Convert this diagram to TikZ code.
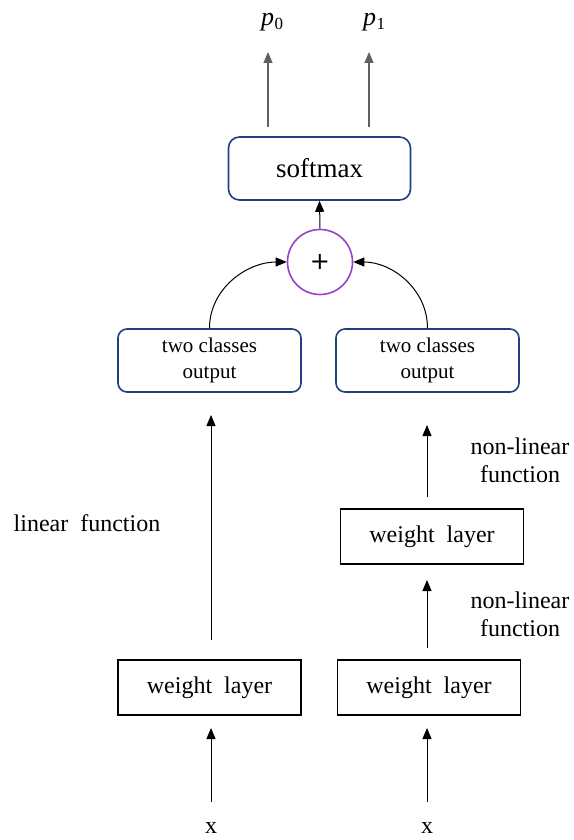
\documentclass[tikz,border=0pt]{standalone}
\usepackage{fontspec}
\setmainfont{Liberation Serif}
\newfontfamily\symfont{DejaVu Sans}
\usetikzlibrary{arrows.meta}
\definecolor{boxblue}{HTML}{1F3F7F}
\definecolor{circpurple}{HTML}{9B3FC6}
\definecolor{arrgray}{HTML}{606060}
\newcommand{\pout}[1]{\textit{p}\kern0.5pt\raisebox{-4pt}{\fontsize{17}{17}\selectfont #1}}
\tikzset{
  wlayer/.style={draw=black, line width=1.6pt, minimum width=183pt, minimum height=55pt, inner sep=0pt, font=\fontsize{24}{28}\selectfont},
  classbox/.style={draw=boxblue, line width=1.6pt, rounded corners=9pt, minimum width=183pt, minimum height=63pt, inner sep=0pt, align=center, font=\fontsize{21}{26}\selectfont},
  softbox/.style={draw=boxblue, line width=1.6pt, rounded corners=11pt, minimum width=182pt, minimum height=63pt, inner sep=0pt, font=\fontsize{27}{30}\selectfont},
  sumcirc/.style={draw=circpurple, line width=1.6pt, circle, minimum size=65pt, inner sep=0pt, font=\symfont\fontsize{24}{28}\selectfont},
  lbl/.style={font=\fontsize{24}{28}\selectfont, align=center, inner sep=0pt},
  plbl/.style={font=\fontsize{26}{28}\selectfont, inner sep=0pt},
  arr/.style={-{Triangle[length=11pt,width=9pt]}, line width=1pt, black},
  garr/.style={-{Triangle[length=11pt,width=9pt]}, line width=1.2pt, arrgray},
}
\begin{document}
\begin{tikzpicture}[x=1pt,y=-1pt]
\useasboundingbox (0,0) rectangle (573,840);
% top outputs
\node[plbl] (p0) at (272,22) {\pout{0}};
\node[plbl] (p1) at (374,22) {\pout{1}};
\node[softbox] (soft) at (319.5,168.5) {softmax};
\node[sumcirc] (sum) at (320,262) {+};
\node[classbox] (cl) at (209.5,360.5) {two classes\\output};
\node[classbox] (cr) at (427.5,360.5) {two classes\\output};
\node[wlayer] (wl) at (209.5,687.5) {weight\ \ layer};
\node[wlayer] (wr) at (429,687.5) {weight\ \ layer};
\node[wlayer] (wm) at (432,536.5) {weight\ \ layer};
\node[lbl] (xl) at (211,828) {x};
\node[lbl] (xr) at (427,828) {x};
\node[lbl] (lin) at (87,523) {linear\ \ function};
\node[lbl] (nl1) at (520,460) {non-linear\\function};
\node[lbl] (nl2) at (520,614) {non-linear\\function};
% coordinates for free ends
\coordinate (p0s) at (268,127);
\coordinate (p0e) at (268,52);
\coordinate (p1s) at (369,127);
\coordinate (p1e) at (369,52);
\coordinate (ls) at (211,640);
\coordinate (le) at (211,415);
\coordinate (xls) at (211,802);
\coordinate (xle) at (211,728);
\coordinate (xrs) at (427,802);
\coordinate (xre) at (427,728);
\coordinate (m1s) at (427,648);
\coordinate (m1e) at (427,580);
\coordinate (m2s) at (427,497);
\coordinate (m2e) at (427,425);
% connectors
\draw[garr] (p0s) -- (p0e);
\draw[garr] (p1s) -- (p1e);
\draw[arr] (sum.north) -- (soft.south);
\draw[arr] (cl.north) to[out=90,in=180] (sum.west);
\draw[arr] (cr.north) to[out=90,in=0] (sum.east);
\draw[arr] (ls) -- (le);
\draw[arr] (xls) -- (xle);
\draw[arr] (xrs) -- (xre);
\draw[arr] (m1s) -- (m1e);
\draw[arr] (m2s) -- (m2e);
\end{tikzpicture}
\end{document}
